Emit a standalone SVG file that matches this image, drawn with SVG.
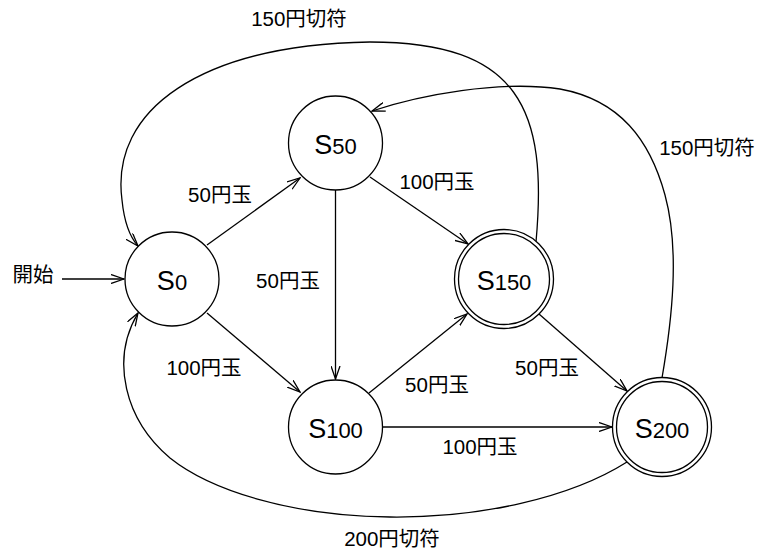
<svg xmlns="http://www.w3.org/2000/svg" width="763" height="552" viewBox="0 0 763 552">
<defs>
<style>
.st{fill:#fff;stroke:#000;stroke-width:1.3}
.ed{fill:none;stroke:#000;stroke-width:1.3;marker-end:url(#arr)}
.nl{font-family:"Liberation Sans","Noto Sans CJK JP",sans-serif;font-size:27px;fill:#000;text-anchor:middle}
.sub{font-size:22px}
.lb{font-family:"Liberation Sans","Noto Sans CJK JP",sans-serif;font-size:20.5px;fill:#000;text-anchor:middle}
</style>
<marker id="arr" markerUnits="userSpaceOnUse" viewBox="0 0 14 10" refX="13" refY="5" markerWidth="14" markerHeight="10" orient="auto">
<path d="M0,0.5 L13,5 L0,9.5" fill="none" stroke="#000" stroke-width="1.3"/>
</marker>
</defs>
<rect width="763" height="552" fill="#fff"/>
<g id="connectors">
<path class="ed" d="M62,279 L124,279"/>
<path class="ed" d="M207,245 L300,178"/>
<path class="ed" d="M207,313 L300,392"/>
<path class="ed" d="M335.5,190 L335.5,379"/>
<path class="ed" d="M370,177 L468,244"/>
<path class="ed" d="M369,393 L467,314"/>
<path class="ed" d="M539,314 L627,391"/>
<path class="ed" d="M383,427 L612,427"/>
<path class="ed" d="M536,242 C548,110 520,42 370,42 C200,45 110,110 122,200 C124,220 129,236 138,246"/>
<path class="ed" d="M662,378 C672,320 680,250 665,195 C650,140 620,100 560,89 C500,80 420,95 372,111"/>
<path class="ed" d="M627,462 C570,498 480,518 390,517 C290,516 210,490 170,458 C125,420 110,360 138,313"/>
</g>
<g id="labels">
<text class="lb" x="33" y="282">開始</text>
<text class="lb" x="299" y="26">150円切符</text>
<text class="lb" x="707" y="155">150円切符</text>
<text class="lb" x="220" y="202">50円玉</text>
<text class="lb" x="437" y="189">100円玉</text>
<text class="lb" x="288" y="288">50円玉</text>
<text class="lb" x="204" y="375">100円玉</text>
<text class="lb" x="547" y="375">50円玉</text>
<text class="lb" x="437" y="392">50円玉</text>
<text class="lb" x="480" y="454">100円玉</text>
<text class="lb" x="392" y="546">200円切符</text>
</g>
<g id="S0">
<circle class="st" cx="172" cy="279" r="47"/>
<text class="nl" x="172" y="290">S<tspan class="sub">0</tspan></text>
</g>
<g id="S50">
<circle class="st" cx="335.5" cy="143" r="47"/>
<text class="nl" x="335.5" y="154">S<tspan class="sub">50</tspan></text>
</g>
<g id="S100">
<circle class="st" cx="335.5" cy="427" r="47"/>
<text class="nl" x="335.5" y="438">S<tspan class="sub">100</tspan></text>
</g>
<g id="S150">
<circle class="st" cx="504" cy="279" r="49.5"/>
<circle class="st" cx="504" cy="279" r="45.5"/>
<text class="nl" x="504" y="290">S<tspan class="sub">150</tspan></text>
</g>
<g id="S200">
<circle class="st" cx="662" cy="427" r="49.5"/>
<circle class="st" cx="662" cy="427" r="45.5"/>
<text class="nl" x="662" y="438">S<tspan class="sub">200</tspan></text>
</g>
</svg>
